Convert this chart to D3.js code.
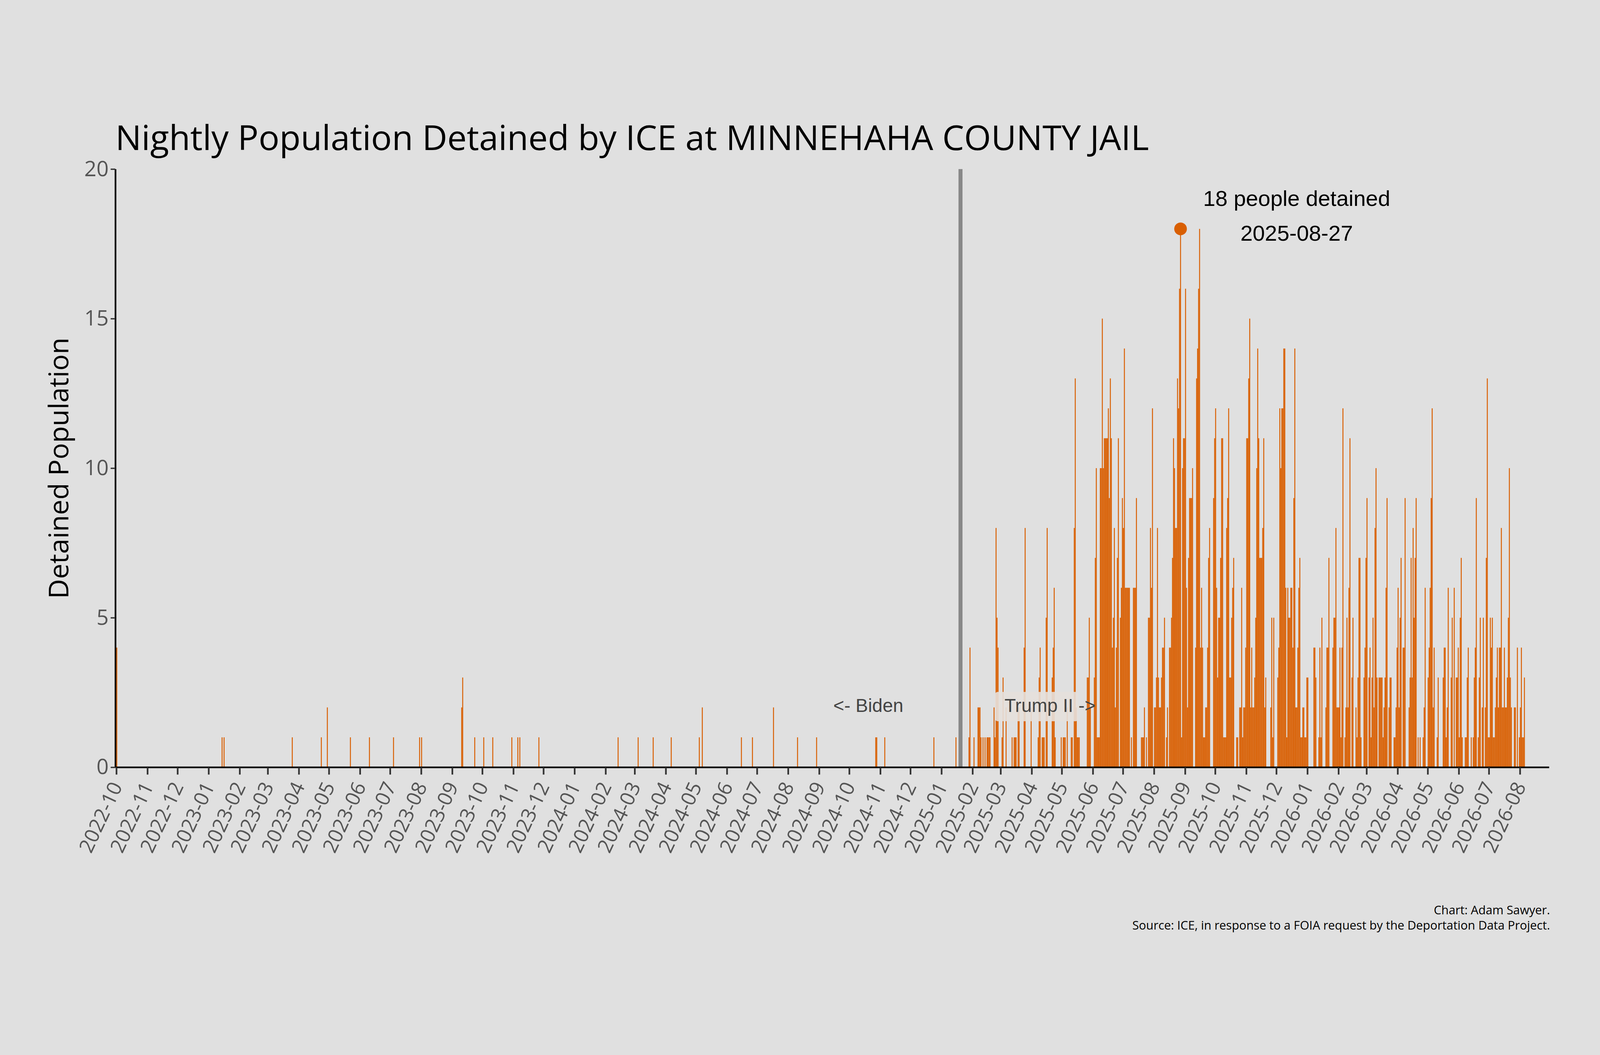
<!DOCTYPE html>
<html><head><meta charset="utf-8">
<script src="https://cdn.jsdelivr.net/npm/d3@7"></script>
<style>html,body{margin:0;padding:0;background:#e0e0e0;overflow:hidden;width:100vw;height:100vh}svg{display:block}</style>
</head><body>
<script>
// Sparse nights before 2025 (date, detained)
const sparseDates = ["2022-10-01","2023-01-14","2023-01-16","2023-03-25","2023-04-23","2023-04-29","2023-05-22","2023-06-10","2023-07-04","2023-07-30","2023-08-01","2023-09-10","2023-09-11","2023-09-23","2023-10-02","2023-10-11","2023-10-30","2023-11-05","2023-11-07","2023-11-26","2024-02-13","2024-03-04","2024-03-19","2024-04-06","2024-05-04","2024-05-07","2024-06-15","2024-06-26","2024-07-17","2024-08-10","2024-08-29","2024-10-27","2024-10-28","2024-11-05","2024-12-24"];
const sparseValues = [4,1,1,1,1,2,1,1,1,1,1,2,3,1,1,1,1,1,1,1,1,1,1,1,1,2,1,1,2,1,1,1,1,1,1];
// Daily series, consecutive nights from each start date
const seg1Start = "2025-01-10";
const seg1 = [0,0,0,0,0,1,0,0,0,0,0,0,0,0,0,0,0,0,1,4,0,0,0,1,0,0,0,2,2,2,1,0,1,0,1,0,1,1,1,1,0,0,0,2,1,8,5,4,0,0,0,1,3,0,0,2,0,0,0,0,0,1,0,1,1,1,0,2,2,0,0,0,0,4,8,0,0,0,0,0,2,0,0,0,0,0,0,1,3,4,0,1,1,1,0,5,8,0,0,0,0,3,4,6,1,0,0,0,0,0,1,0,1,1,1,0,2,0,0,0,1,1,0,8,13,2,1,1,1,0,0,0,0,0,0,0,3,3,5,2,0,0,0,3,7,10,1];
const seg2Start = "2025-06-06";
const seg2 = [1,1,10,10,15,10,11,11,11,11,12,9,13,11,4,5,8,2,4,7,11,0,5,6,9,8,14,6,6,6,6,6,0,1,0,6,6,6,9,0,0,0,0,1,1,1,2,0,1,0,5,5,8,6,12,0,2,2,3,8,3,2,2,3,4,4,5,0,1,2,0,4,4,5,7,11,10,8,8,13,12,16,18,1,10,11,11,16,6,2,7,9,9,9,10,0,0,4,13,14,16,18,4,6,4,1,1,2,2,4,7,8,0,0,0,9,11,12,6,3,5,5,7,11,11,1,1,1,8,9,12,3,3,5,6,7,0,0,1,1,0,2,2,6,1,2,4,11,11];
const seg3Start = "2025-10-30";
const seg3 = [2,4,11,11,13,15,2,4,2,2,3,5,10,14,11,7,7,7,8,11,2,3,0,0,0,0,2,5,1,5,0,0,0,3,4,12,10,12,12,14,14,6,1,6,5,5,6,6,4,9,14,2,2,4,6,7,1,1,2,2,1,1,3,3,0,0,0,0,0,4,4,3,0,0,1,4,1,5,0,0,0,2,4,4,7,0,0,0,4,5,5,8,2,2,2,4,1,4,12,0,1,2,5,2,6,11,0,3,5,0,0,2,1,3,7,7,1,0,0,3,4,7,9,0,3,4,1,3,5,2,8,10,3,0,3,3,3,3,1,2,3,6,9,0,2,3,0,0,1];
const seg4Start = "2026-03-25";
const seg4 = [3,0,0,1,1,2,4,6,2,5,7,0,4,4,9,0,0,0,2,3,7,3,8,5,7,9,0,1,0,1,0,0,1,2,6,0,0,3,4,6,9,12,2,4,0,0,1,3,0,0,0,0,3,4,4,1,2,6,0,0,3,5,0,6,0,3,3,4,1,5,7,1,0,0,1,1,3,4,0,0,1,0,1,3,4,9,0,1,3,5,0,2,5,0,2,7,13,1,1,5,4,5,1,1,2,3,4,2,4,4,8,2,2,4,2,2,3,5,10,3,2,0,0,2,2,0,4,0,1,2,4,1,1,3];
const yTicks = [0,5,10,15,20];
const peakDate = "2025-08-27", peakValue = 18;
const trumpDate = "2025-01-20";

const W=4800,H=2700;
const parse=d3.utcParse("%Y-%m-%d");
const map=new Map();
sparseDates.forEach((d,i)=>map.set(+parse(d),sparseValues[i]));
[[seg1Start,seg1],[seg2Start,seg2],[seg3Start,seg3],[seg4Start,seg4]].forEach(([s,arr])=>{
  const s0=parse(s);
  arr.forEach((v,i)=>map.set(+d3.utcDay.offset(s0,i),v));
});
const data=[...map].map(([t,v])=>({date:new Date(t),v})).filter(d=>d.v>0);

const svg=d3.select("body").append("svg").attr("viewBox",`0 0 ${W} ${H}`)
  .attr("width","100vw").attr("height","100vh").attr("preserveAspectRatio","xMidYMid meet")
  .style("background","#e0e0e0").style("font-family","'Open Sans', sans-serif");
const x=d3.scaleUtc().domain([parse("2022-09-30"),parse("2026-08-30")]).range([346,4647]);
const y=d3.scaleLinear().domain([0,20]).range([2069,275]);
const dayW=x(parse("2022-10-02"))-x(parse("2022-10-01"));

svg.append("g").selectAll("rect").data(data).join("rect")
  .attr("x",d=>x(d.date)).attr("width",dayW*0.95)
  .attr("y",d=>y(d.v)).attr("height",d=>y(0)-y(d.v)).attr("fill","#d95f02");

svg.append("line").attr("x1",x(parse(trumpDate))).attr("x2",x(parse(trumpDate)))
  .attr("y1",y(20)).attr("y2",y(0)).attr("stroke","#888").attr("stroke-width",12);

const xa=svg.append("g").attr("transform",`translate(0,${y(0)})`)
  .call(d3.axisBottom(x).ticks(d3.utcMonth.every(1)).tickFormat(d3.utcFormat("%Y-%m")).tickSize(22).tickSizeOuter(0));
xa.select(".domain").attr("stroke","#000").attr("stroke-width",5);
xa.selectAll(".tick line").attr("stroke","#333").attr("stroke-width",5);
xa.selectAll(".tick text").attr("font-size",60).attr("fill","#555").attr("font-family","'Open Sans', sans-serif")
  .attr("text-anchor","end").attr("dy","0.35em").attr("transform","translate(0,48) rotate(-65)").attr("x",0).attr("y",0);
const ya=svg.append("g").attr("transform",`translate(346,0)`)
  .call(d3.axisLeft(y).tickValues(yTicks).tickSize(14).tickSizeOuter(0));
ya.select(".domain").attr("stroke","#000").attr("stroke-width",5);
ya.selectAll(".tick line").attr("stroke","#333").attr("stroke-width",4);
ya.selectAll(".tick text").attr("font-size",64).attr("fill","#555").attr("font-family","'Open Sans', sans-serif").attr("x",-20);

svg.append("circle").attr("cx",x(parse(peakDate))+dayW/2).attr("cy",y(peakValue)).attr("r",19).attr("fill","#d95f02");
svg.append("text").attr("x",3890).attr("y",385).attr("text-anchor","middle").attr("font-size",66)
  .attr("font-family","'Liberation Sans', Arial, sans-serif").text(`${peakValue} people detained`);
svg.append("text").attr("x",3890).attr("y",490).attr("text-anchor","middle").attr("font-size",66)
  .attr("font-family","'Liberation Sans', Arial, sans-serif").text(peakDate);

svg.append("text").attr("x",2605).attr("y",1903).attr("text-anchor","middle").attr("font-size",56)
  .attr("fill","#444").attr("font-family","'Liberation Sans', Arial, sans-serif").text("<- Biden");
svg.append("rect").attr("x",2985).attr("y",1843).attr("width",250).attr("height",88).attr("rx",8).attr("fill","#e6e0dc").attr("opacity",0.9);
svg.append("text").attr("x",3150).attr("y",1903).attr("text-anchor","middle").attr("font-size",56)
  .attr("fill","#444").attr("font-family","'Liberation Sans', Arial, sans-serif").text("Trump II ->");

svg.append("text").attr("x",346).attr("y",218).attr("font-size",104).attr("fill","#000")
  .text("Nightly Population Detained by ICE at MINNEHAHA COUNTY JAIL");
svg.append("text").attr("transform",`translate(205,1172) rotate(-90)`).attr("text-anchor","middle")
  .attr("font-size",82).attr("fill","#000").text("Detained Population");
svg.append("text").attr("x",4650).attr("y",2510).attr("text-anchor","end").attr("font-size",36).text("Chart: Adam Sawyer.");
svg.append("text").attr("x",4650).attr("y",2556).attr("text-anchor","end").attr("font-size",36)
  .text("Source: ICE, in response to a FOIA request by the Deportation Data Project.");
</script>
</body></html>
